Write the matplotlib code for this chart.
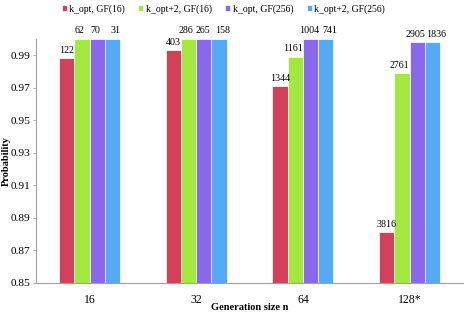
import numpy as np
import matplotlib.pyplot as plt

plt.rcParams['font.family'] = ['Liberation Serif', 'DejaVu Serif']

categories = ['16', '32', '64', '128*']
series_names = ['k_opt, GF(16)', 'k_opt+2, GF(16)', 'k_opt, GF(256)', 'k_opt+2, GF(256)']
prob = [
    [0.988, 0.993, 0.971, 0.881],
    [1.000, 1.000, 0.989, 0.979],
    [1.000, 1.000, 1.000, 0.998],
    [1.000, 1.000, 1.000, 0.998],
]
counts = [
    [122, 403, 1344, 3816],
    [62, 286, 1161, 2761],
    [70, 265, 1004, 2905],
    [31, 158, 741, 1836],
]
colors = ['#D3405A', '#A2E83F', '#8A68EE', '#56A9F4']

fig = plt.figure(figsize=(4.7, 3.14), dpi=100)
ax = fig.add_axes([0.077, 0.099, 0.908, 0.777])

x = np.arange(len(categories))
w = 0.143
label_shift = [0, -1.6, -1, 2.6]  # points, keeps neighbouring labels apart
for i in range(4):
    pos = x + (i - 1.5) * w
    ax.bar(pos, prob[i], w, color=colors[i], edgecolor='white',
           linewidth=0.5, label=series_names[i])
    for p, v, c in zip(pos, prob[i], counts[i]):
        ax.annotate(str(c), (p, v), xytext=(label_shift[i], 2.5),
                    textcoords='offset points', ha='center', va='bottom', fontsize=7.2)

ax.set_ylim(0.85, 1.0)
ax.set_xlim(-0.5, 3.5)
ax.set_yticks([0.85, 0.87, 0.89, 0.91, 0.93, 0.95, 0.97, 0.99])
ax.set_yticklabels(['0.85', '0.87', '0.89', '0.91', '0.93', '0.95', '0.97', '0.99'])
ax.set_xticks(x)
ax.set_xticklabels(categories)
ax.tick_params(axis='y', length=2, color='#B0B0B0', labelsize=8.2, pad=2)
ax.tick_params(axis='x', length=0, labelsize=8.5, pad=8)
for s in ['top', 'right']:
    ax.spines[s].set_visible(False)
for s in ['left', 'bottom']:
    ax.spines[s].set_color('#A0A0A0')
    ax.spines[s].set_linewidth(0.8)

ax.set_xlabel('Generation size n', fontsize=7.5, fontweight='bold')
ax.set_ylabel('Probability', fontsize=7.5, fontweight='bold')
ax.xaxis.set_label_coords(0.5, -0.082)
ax.yaxis.set_label_coords(-0.06, 0.5)

fig.legend(loc='center', bbox_to_anchor=(0.475, 0.972), ncol=4, fontsize=7,
           frameon=False, handlelength=0.5, handleheight=0.5, handletextpad=0.25,
           columnspacing=1.4)

fig.savefig('out.png', dpi=100)
